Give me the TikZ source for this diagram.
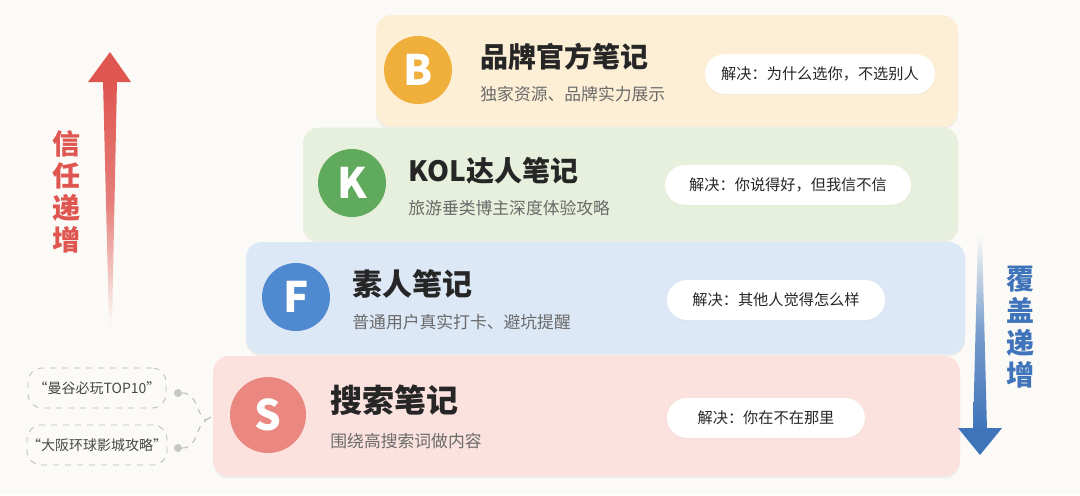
\documentclass[tikz,border=0pt]{standalone}
\usepackage{fontspec}
\setmainfont{Noto Sans CJK SC}
\usetikzlibrary{shadows}
\definecolor{bg}{HTML}{FBFAF6}
\definecolor{fB}{HTML}{FCEFD6}
\definecolor{fK}{HTML}{E7F0DC}
\definecolor{fF}{HTML}{DDE8F6}
\definecolor{fS}{HTML}{FBE2DF}
\definecolor{cB}{HTML}{F0AE3A}
\definecolor{cK}{HTML}{5FAA5C}
\definecolor{cF}{HTML}{4F89D0}
\definecolor{cS}{HTML}{E98780}
\definecolor{redA}{HTML}{DF5550}
\definecolor{blueA}{HTML}{3F74BA}
\definecolor{ink}{HTML}{262626}
\definecolor{subc}{HTML}{6A6A6A}
\tikzset{
  tier/.style={rounded corners=8pt, inner sep=0pt, drop shadow={opacity=0.10, shadow xshift=0pt, shadow yshift=-1.2pt}},
  circ/.style={circle, minimum size=34pt, inner sep=0pt, text=white, font=\fontsize{21}{21}\selectfont\bfseries},
  ttl/.style={anchor=base west, inner sep=0pt, text=ink, font=\fontsize{14}{14}\selectfont\bfseries},
  subt/.style={anchor=base west, inner sep=0pt, text=subc, font=\fontsize{8.4}{9}\selectfont},
  pill/.style={rounded corners=10pt, fill=white, inner sep=0pt, minimum height=20pt, text=ink, font=\fontsize{7.6}{8}\selectfont, drop shadow={opacity=0.06, shadow xshift=0pt, shadow yshift=-0.6pt}},
  sidet/.style={align=center, inner sep=0pt, font=\fontsize{14}{16}\selectfont\bfseries},
  dbox/.style={draw=gray!55, dashed, rounded corners=7pt, minimum width=69pt, minimum height=20pt, inner sep=0pt, text=ink!85, font=\fontsize{7}{8}\selectfont},
  dotc/.style={circle, fill=gray!45, minimum size=4pt, inner sep=0pt},
  link/.style={draw=gray!55, dashed, line width=0.5pt}
}
\begin{document}
\begin{tikzpicture}[x=0.5pt,y=-0.5pt]
\useasboundingbox[fill=bg] (0,0) rectangle (1080,495);

% tiers
\node[tier, fill=fB, minimum width=291pt, minimum height=56pt] (tB) at (667,71) {};
\node[tier, fill=fK, minimum width=327.5pt, minimum height=56.5pt] (tK) at (630.5,184) {};
\node[tier, fill=fF, minimum width=359.5pt, minimum height=56pt] (tF) at (605.5,298) {};
\node[tier, fill=fS, minimum width=373.5pt, minimum height=60pt] (tS) at (586.5,416) {};

% circles
\node[circ, fill=cB] (cirB) at (418,70) {B};
\node[circ, fill=cK] (cirK) at (352,183) {K};
\node[circ, fill=cF] (cirF) at (296,297) {F};
\node[circ, fill=cS, minimum size=38pt] (cirS) at (268,415) {S};

% titles
\node[ttl] (hB) at (480,67) {品牌官方笔记};
\node[subt] (sB) at (480,100) {独家资源、品牌实力展示};
\node[ttl] (hK) at (408,181) {KOL达人笔记};
\node[subt] (sK) at (408,214) {旅游垂类博主深度体验攻略};
\node[ttl, font=\fontsize{15}{15}\selectfont\bfseries] (hF) at (352,295) {素人笔记};
\node[subt] (sF) at (352,328) {普通用户真实打卡、避坑提醒};
\node[ttl, font=\fontsize{16}{16}\selectfont\bfseries] (hS) at (330,412) {搜索笔记};
\node[subt] (sS) at (330,447) {围绕高搜索词做内容};

% pills
\node[pill, minimum width=115pt] (pB) at (820,74) {解决：为什么选你，不选别人};
\node[pill, minimum width=123pt] (pK) at (788,185) {解决：你说得好，但我信不信};
\node[pill, minimum width=109pt] (pF) at (776,300) {解决：其他人觉得怎么样};
\node[pill, minimum width=99pt] (pS) at (766,418) {解决：你在不在那里};

% left arrow (trust)
\shade[top color=redA, bottom color=bg, middle color=redA!75!bg] (103,80) -- (117,80) -- (112,325) -- (109,325) -- cycle;
\fill[redA] (88,82) -- (131,82) -- (110,52) -- cycle;
\node[sidet, text=redA] (tl) at (66,192) {信\\任\\递\\增};

% right arrow (coverage)
\shade[top color=bg, bottom color=blueA, middle color=blueA!70!bg] (978,235) -- (982,235) -- (987,430) -- (973,430) -- cycle;
\fill[blueA] (958,428) -- (1002,428) -- (980,455) -- cycle;
\node[sidet, text=blueA] (tr) at (1020,327) {覆\\盖\\递\\增};

% search keyword boxes
\node[dbox] (k1) at (97,388) {“曼谷必玩TOP10”};
\node[dbox] (k2) at (97,445) {“大阪环球影城攻略”};
\node[dotc] (d1) at (178,393) {};
\node[dotc] (d2) at (178,448) {};
\coordinate (jn) at (206,420);
\draw[link] (d1) .. controls (198,393) and (196,415) .. (jn);
\draw[link] (d2) .. controls (198,448) and (196,425) .. (jn);
\draw[link] (jn) -- (tS.west);
\end{tikzpicture}
\end{document}
